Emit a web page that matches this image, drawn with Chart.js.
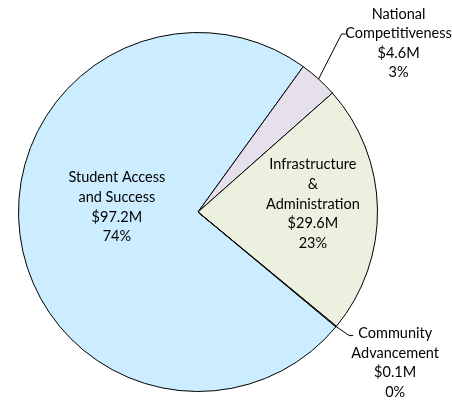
<!DOCTYPE html>
<html>
<head>
<meta charset="utf-8">
<script src="https://cdn.jsdelivr.net/npm/chart.js@4/dist/chart.umd.min.js"></script>
<style>
  html, body { margin: 0; padding: 0; background: #fff; }
  #budgetPie { display: block; }
</style>
</head>
<body>
<canvas id="budgetPie" width="452" height="400"></canvas>
<script>
// Budget split by area ($M)
const areas = ["Student Access and Success", "National Competitiveness", "Infrastructure & Administration", "Community Advancement"];
const areaLines = [["Student Access", "and Success"], ["National", "Competitiveness"], ["Infrastructure", "&", "Administration"], ["Community", "Advancement"]];
const amounts = [97.2, 4.6, 29.6, 0.1];
const sliceColors = ["#CCECFF", "#E6E0EC", "#EBF1DE", "#EBF1DE"];

const total = amounts.reduce((a, b) => a + b, 0);
const FONT = "14.5px Lato, 'Open Sans', sans-serif";
const LINE_H = 19.6;

// where each label goes: inside the slice, or outside with a leader line
const labelPlacement = [
  { inside: true, frac: 0.45, dx: -1, dy: -15 },
  { inside: false, elbowX: 23, elbowY: -45, tail: 4, textDx: 53, firstLineDy: -20 },
  { inside: true, frac: 0.64, dx: 0, dy: -6 },
  { inside: false, elbowX: 13, elbowY: 9, tail: 4, textDx: 42, firstLineDy: -2 }
];

function labelText(i) {
  const v = amounts[i];
  return areaLines[i].concat(["$" + v.toFixed(1) + "M", Math.round(v / total * 100) + "%"]);
}

const sliceLabels = {
  id: "sliceLabels",
  afterDatasetsDraw(chart) {
    const ctx = chart.ctx;
    const arcs = chart.getDatasetMeta(0).data;
    ctx.save();
    ctx.font = FONT;
    ctx.fillStyle = "#000";
    ctx.textAlign = "center";
    ctx.textBaseline = "middle";
    arcs.forEach((arc, i) => {
      const p = labelPlacement[i];
      const lines = labelText(i);
      const mid = (arc.startAngle + arc.endAngle) / 2;
      const cx = arc.x, cy = arc.y, r = arc.outerRadius;
      let x, y0;
      if (p.inside) {
        x = cx + Math.cos(mid) * r * p.frac + p.dx;
        const yc = cy + Math.sin(mid) * r * p.frac + p.dy;
        y0 = yc - (lines.length - 1) * LINE_H / 2;
      } else {
        const ex = cx + Math.cos(mid) * r;
        const ey = cy + Math.sin(mid) * r;
        const bx = ex + p.elbowX, by = ey + p.elbowY;
        ctx.beginPath();
        ctx.strokeStyle = "#000";
        ctx.lineWidth = 1;
        ctx.moveTo(ex, ey);
        ctx.lineTo(bx, by);
        ctx.lineTo(bx + p.tail, by);
        ctx.stroke();
        x = bx + p.tail + p.textDx;
        y0 = by + p.firstLineDy;
      }
      lines.forEach((t, k) => ctx.fillText(t, x, y0 + k * LINE_H));
    });
    ctx.restore();
  }
};

new Chart(document.getElementById("budgetPie"), {
  type: "pie",
  data: {
    labels: areas,
    datasets: [{
      data: amounts,
      backgroundColor: sliceColors,
      borderColor: "#000",
      borderWidth: 1
    }]
  },
  options: {
    responsive: false,
    animation: false,
    rotation: 129.8,
    layout: { padding: { left: 0, right: 56, top: 32, bottom: 8 } },
    plugins: {
      legend: { display: false },
      tooltip: { enabled: false }
    }
  },
  plugins: [sliceLabels]
});
</script>
</body>
</html>
